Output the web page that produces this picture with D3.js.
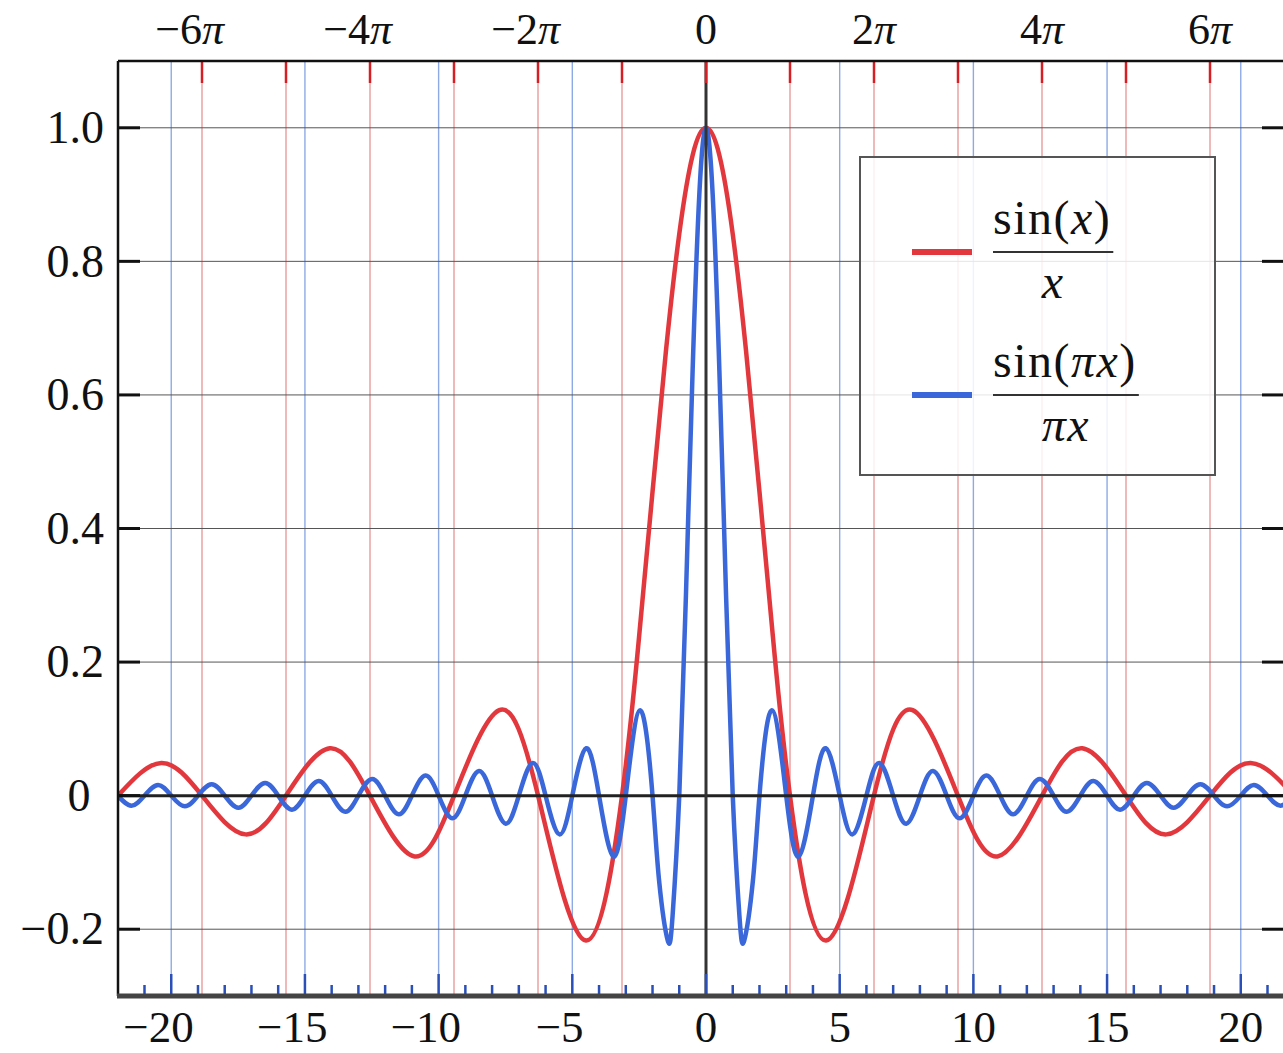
<!DOCTYPE html>
<html>
<head>
<meta charset="utf-8">
<title>sinc</title>
<script src="https://d3js.org/d3.v7.min.js"></script>
<style>
body { margin: 0; background: #fff; }
text { font-family: "Liberation Serif", "DejaVu Serif", serif; fill: #111; }
</style>
</head>
<body>
<div id="chart"></div>
<script>
// values: zero crossings, extrema and a few points on the main lobe
const redCurve = [
  [-21.99, 0], [-20.37, 0.049], [-18.85, 0], [-17.22, -0.058], [-15.71, 0], [-14.07, 0.071],
  [-12.57, 0], [-10.90, -0.091], [-9.42, 0], [-7.73, 0.128], [-6.28, 0], [-4.49, -0.217],
  [-3.14, 0], [-2.5, 0.239], [-2, 0.455], [-1.5, 0.665], [-1, 0.841], [-0.5, 0.959], [0, 1],
  [0.5, 0.959], [1, 0.841], [1.5, 0.665], [2, 0.455], [2.5, 0.239], [3.14, 0], [4.49, -0.217],
  [6.28, 0], [7.73, 0.128], [9.42, 0], [10.90, -0.091], [12.57, 0], [14.07, 0.071],
  [15.71, 0], [17.22, -0.058], [18.85, 0], [20.37, 0.049], [21.99, 0]
];
const blueCurve = [
  [-22, 0], [-21.49, -0.015], [-21, 0], [-20.49, 0.016], [-20, 0], [-19.49, -0.016], [-19, 0],
  [-18.49, 0.017], [-18, 0], [-17.49, -0.018], [-17, 0], [-16.49, 0.019], [-16, 0],
  [-15.49, -0.021], [-15, 0], [-14.49, 0.022], [-14, 0], [-13.49, -0.024], [-13, 0],
  [-12.49, 0.025], [-12, 0], [-11.49, -0.028], [-11, 0], [-10.49, 0.030], [-10, 0],
  [-9.49, -0.034], [-9, 0], [-8.49, 0.037], [-8, 0], [-7.49, -0.042], [-7, 0], [-6.48, 0.049],
  [-6, 0], [-5.48, -0.058], [-5, 0], [-4.48, 0.071], [-4, 0], [-3.47, -0.091], [-3, 0],
  [-2.46, 0.128], [-2, 0], [-1.75, -0.129], [-1.43, -0.217], [-1.25, -0.180], [-1, 0],
  [-0.75, 0.300], [-0.5, 0.637], [-0.25, 0.900], [0, 1],
  [0.25, 0.900], [0.5, 0.637], [0.75, 0.300], [1, 0], [1.25, -0.180], [1.43, -0.217],
  [1.75, -0.129], [2, 0], [2.46, 0.128], [3, 0], [3.47, -0.091], [4, 0], [4.48, 0.071], [5, 0],
  [5.48, -0.058], [6, 0], [6.48, 0.049], [7, 0], [7.49, -0.042], [8, 0], [8.49, 0.037], [9, 0],
  [9.49, -0.034], [10, 0], [10.49, 0.030], [11, 0], [11.49, -0.028], [12, 0], [12.49, 0.025],
  [13, 0], [13.49, -0.024], [14, 0], [14.49, 0.022], [15, 0], [15.49, -0.021], [16, 0],
  [16.49, 0.019], [17, 0], [17.49, -0.018], [18, 0], [18.49, 0.017], [19, 0], [19.49, -0.016],
  [20, 0], [20.49, 0.016], [21, 0], [21.49, -0.015], [22, 0]
];

const yTicks = [-0.2, 0, 0.2, 0.4, 0.6, 0.8, 1.0];
const yTickLabels = ["−0.2", "0", "0.2", "0.4", "0.6", "0.8", "1.0"];
const xTicks = [-20, -15, -10, -5, 0, 5, 10, 15, 20];
const xTickLabels = ["−20", "−15", "−10", "−5", "0", "5", "10", "15", "20"];
const xMinorTicks = d3.range(-21, 22);
const piTicks = [-6, -5, -4, -3, -2, -1, 0, 1, 2, 3, 4, 5, 6];
const piLabelTicks = [-6, -4, -2, 0, 2, 4, 6];
const piTickLabels = ["−6π", "−4π", "−2π", "0", "2π", "4π", "6π"];

const W = 1283, H = 1053;
const RED = "#e2383d", BLUE = "#3a67d9";

const x = d3.scaleLinear().domain([-7 * Math.PI, 7 * Math.PI]).range([118, 1294]);
const y = d3.scaleLinear().domain([-0.3, 1.1]).range([996, 61]);
const [x0, x1] = x.range();
const [yb, yt] = y.range();

const svg = d3.select("#chart").append("svg")
  .attr("width", W).attr("height", H);

svg.append("clipPath").attr("id", "plot")
  .append("rect").attr("x", x0).attr("y", yt).attr("width", x1 - x0).attr("height", yb - yt);

// grid lines
const grid = svg.append("g").attr("clip-path", "url(#plot)");
grid.selectAll(".pg").data(piTicks.filter(k => k !== 0)).join("line")
  .attr("x1", k => x(k * Math.PI)).attr("x2", k => x(k * Math.PI))
  .attr("y1", yt).attr("y2", yb)
  .attr("stroke", "#e58a8c").attr("stroke-width", 1.2);
grid.selectAll(".bg").data(xTicks.filter(v => v !== 0)).join("line")
  .attr("x1", v => x(v)).attr("x2", v => x(v))
  .attr("y1", yt).attr("y2", yb)
  .attr("stroke", "#8eaae6").attr("stroke-width", 1.4);
grid.selectAll(".hg").data(yTicks.filter(v => v !== 0)).join("line")
  .attr("x1", x0).attr("x2", x1)
  .attr("y1", v => y(v)).attr("y2", v => y(v))
  .attr("stroke", "#555").attr("stroke-width", 1);

// curves
const line = d3.line().x(d => x(d[0])).y(d => y(d[1])).curve(d3.curveNatural);
const curves = svg.append("g").attr("clip-path", "url(#plot)");
curves.append("path").datum(redCurve).attr("d", line)
  .attr("fill", "none").attr("stroke", RED).attr("stroke-width", 4.5);
curves.append("path").datum(blueCurve).attr("d", line)
  .attr("fill", "none").attr("stroke", BLUE).attr("stroke-width", 4.5);

// axis lines through the origin
svg.append("line").attr("x1", x0).attr("x2", x1).attr("y1", y(0)).attr("y2", y(0))
  .attr("stroke", "#222").attr("stroke-width", 3);
svg.append("line").attr("x1", x(0)).attr("x2", x(0)).attr("y1", yt).attr("y2", yb)
  .attr("stroke", "#333").attr("stroke-width", 3);

// ticks
svg.selectAll(".pt").data(piTicks).join("line")
  .attr("x1", k => x(k * Math.PI)).attr("x2", k => x(k * Math.PI))
  .attr("y1", yt).attr("y2", yt + 22)
  .attr("stroke", "#d81e25").attr("stroke-width", 2.5);
svg.selectAll(".mt").data(xMinorTicks).join("line")
  .attr("x1", v => x(v)).attr("x2", v => x(v))
  .attr("y1", v => v % 5 === 0 ? yb - 22 : yb - 11).attr("y2", yb)
  .attr("stroke", "#2a4fb8").attr("stroke-width", 2.5);
svg.selectAll(".yt").data(yTicks).join("line")
  .attr("x1", x0).attr("x2", x0 + 22)
  .attr("y1", v => y(v)).attr("y2", v => y(v))
  .attr("stroke", "#111").attr("stroke-width", 3);
svg.selectAll(".yr").data(yTicks).join("line")
  .attr("x1", 1262).attr("x2", x1)
  .attr("y1", v => y(v)).attr("y2", v => y(v))
  .attr("stroke", "#111").attr("stroke-width", 3);

// frame
svg.append("line").attr("x1", x0).attr("x2", x1).attr("y1", yt).attr("y2", yt)
  .attr("stroke", "#111").attr("stroke-width", 2.5);
svg.append("line").attr("x1", x0).attr("x2", x0).attr("y1", yt).attr("y2", yb)
  .attr("stroke", "#111").attr("stroke-width", 2.5);
svg.append("line").attr("x1", x0 - 1).attr("x2", x1).attr("y1", yb).attr("y2", yb)
  .attr("stroke", "#444").attr("stroke-width", 5);

// labels: the number is centred on its tick, a minus sign hangs to the left
function hangLabel(g, cx, baseline, str, size) {
  const neg = str[0] === "−";
  const body = neg ? str.slice(1) : str;
  const t = g.append("text").attr("y", baseline).attr("font-size", size);
  let m = null;
  if (neg) m = t.append("tspan").text("−");
  t.append("tspan").text(body.replace("π", ""));
  if (body.includes("π")) t.append("tspan").attr("font-style", "italic").text("π");
  const total = t.node().getComputedTextLength();
  const mw = m ? m.node().getComputedTextLength() : 0;
  t.attr("x", cx - mw - (total - mw) / 2);
}

const labels = svg.append("g");
xTicks.forEach((v, i) => hangLabel(labels, x(v), 1042, xTickLabels[i], 45));
piLabelTicks.forEach((k, i) => hangLabel(labels, x(k * Math.PI), 44, piTickLabels[i], 44));
yTicks.forEach((v, i) => {
  labels.append("text")
    .attr("x", v === 0 ? 79 : 104)
    .attr("y", y(v)).attr("dy", "0.33em")
    .attr("text-anchor", v === 0 ? "middle" : "end")
    .attr("font-size", 46)
    .text(yTickLabels[i]);
});

// legend
const lg = svg.append("g");
lg.append("rect").attr("x", 860).attr("y", 157).attr("width", 355).attr("height", 318)
  .attr("fill", "#fff").attr("fill-opacity", 0.85)
  .attr("stroke", "#555").attr("stroke-width", 2);

const legendItems = [
  { color: RED, y: 252, num: [["sin(", false], ["x", true], [")", false]], den: [["x", true]] },
  { color: BLUE, y: 395, num: [["sin(", false], ["πx", true], [")", false]], den: [["πx", true]] }
];
legendItems.forEach(it => {
  lg.append("line").attr("x1", 912).attr("x2", 972).attr("y1", it.y).attr("y2", it.y)
    .attr("stroke", it.color).attr("stroke-width", 6);
  const num = lg.append("text").attr("x", 993).attr("y", it.y - 18)
    .attr("font-size", 48).attr("letter-spacing", 1.5);
  it.num.forEach(p => num.append("tspan").attr("font-style", p[1] ? "italic" : null).text(p[0]));
  const w = num.node().getComputedTextLength();
  lg.append("line").attr("x1", 993).attr("x2", 993 + w + 2).attr("y1", it.y).attr("y2", it.y)
    .attr("stroke", "#333").attr("stroke-width", 2);
  const den = lg.append("text").attr("x", 993 + (w + 2) / 2).attr("y", it.y + 46)
    .attr("text-anchor", "middle").attr("font-size", 48).attr("letter-spacing", 1.5);
  it.den.forEach(p => den.append("tspan").attr("font-style", p[1] ? "italic" : null).text(p[0]));
});
</script>
</body>
</html>
